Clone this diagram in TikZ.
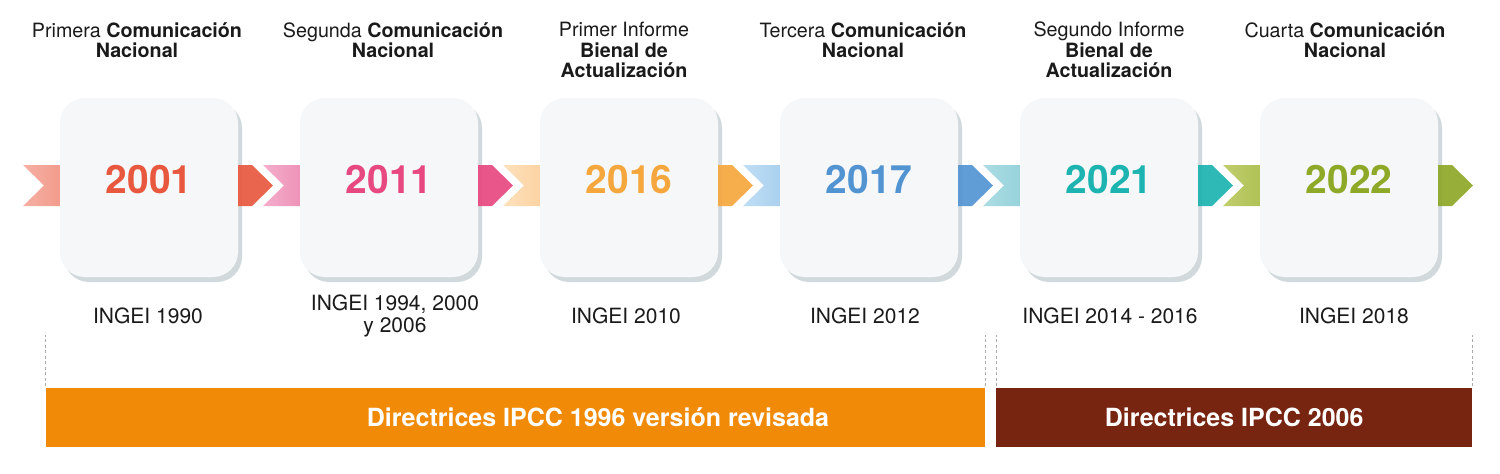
\documentclass[tikz,border=0pt]{standalone}
\usepackage{fontspec}
\setmainfont{TeX Gyre Heros}
\usetikzlibrary{calc,shadows}
\definecolor{ink}{HTML}{1A1A1A}
\definecolor{cardfill}{HTML}{F6F7F9}
\definecolor{cardshade}{HTML}{D2D9DC}
\definecolor{guide}{HTML}{ABABAB}
\definecolor{ipccold}{HTML}{F18A07}
\definecolor{ipccnew}{HTML}{772411}
% year / arrow colours, tail colours (left, right)
\definecolor{dk1}{HTML}{E8583F}\definecolor{lt1}{HTML}{F5B0A3}\definecolor{lr1}{HTML}{F29C8C}
\definecolor{dk2}{HTML}{E74880}\definecolor{lt2}{HTML}{F4AECB}\definecolor{lr2}{HTML}{EE93B9}
\definecolor{dk3}{HTML}{F5A73E}\definecolor{lt3}{HTML}{FDE1BC}\definecolor{lr3}{HTML}{FCD3A3}
\definecolor{dk4}{HTML}{5294D2}\definecolor{lt4}{HTML}{C0DEF4}\definecolor{lr4}{HTML}{AAD1EF}
\definecolor{dk5}{HTML}{1CB3B0}\definecolor{lt5}{HTML}{ACDCE3}\definecolor{lr5}{HTML}{97D3DC}
\definecolor{dk6}{HTML}{8EA828}\definecolor{lt6}{HTML}{C0CD6E}\definecolor{lr6}{HTML}{B0C256}
\tikzset{
  card/.style={rounded corners=25pt, fill=cardfill, minimum width=178pt, minimum height=179pt,
    inner sep=0pt, general shadow={fill=cardshade, shadow xshift=4pt, shadow yshift=-5pt}},
  yeartxt/.style={font=\bfseries\fontsize{39}{39}\selectfont, anchor=base, inner sep=0pt},
  ttl/.style={text=ink, font=\fontsize{19.7}{20.5}\selectfont, align=center, anchor=north,
    inner sep=0pt, execute at begin node={\rule{0pt}{18pt}}},
  lab/.style={text=ink, font=\fontsize{21}{22}\selectfont, align=center, anchor=north,
    inner sep=0pt, execute at begin node={\rule{0pt}{18pt}}},
  head/.style={fill opacity=0.92},
  bar/.style={anchor=north west, minimum height=59pt, inner sep=0pt},
  bartxt/.style={text=white, font=\bfseries\fontsize{25}{25}\selectfont, anchor=base, inner sep=0pt},
  guideline/.style={draw=guide, line width=0.8pt, dash pattern=on 3pt off 2.5pt},
}
\begin{document}
\begin{tikzpicture}[x=1pt,y=-1pt]
  \useasboundingbox (0,0) rectangle (1500,474);

  % cards, years and chevrons
  \foreach \i/\yr in {1/2001,2/2011,3/2016,4/2017,5/2021,6/2022}{
    \pgfmathsetmacro{\cx}{149+240*(\i-1)}
    \shade[left color=lt\i, right color=lr\i]
      (\cx-126,165) -- (\cx-89,165) -- (\cx-89,206) -- (\cx-126,206) -- (\cx-105,185.5) -- cycle;
    \node[card] (box\i) at (\cx,187.5) {};
    \node[yeartxt, text=dk\i] (yr\i) at (\cx,193) {\yr};
    \fill[head, dk\i] (\cx+89,165) -- (\cx+103,165) -- (\cx+124,185.5) -- (\cx+103,206) -- (\cx+89,206) -- cycle;
  }

  % titles
  \node[ttl] (t1) at (137,22) {Primera \textbf{Comunicación}\\\textbf{Nacional}};
  \node[ttl] (t2) at (393,22) {Segunda \textbf{Comunicación}\\\textbf{Nacional}};
  \node[ttl] (t3) at (624,22) {Primer Informe\\\textbf{Bienal de}\\\textbf{Actualización}};
  \node[ttl] (t4) at (863,22) {Tercera \textbf{Comunicación}\\\textbf{Nacional}};
  \node[ttl] (t5) at (1109,22) {Segundo Informe\\\textbf{Bienal de}\\\textbf{Actualización}};
  \node[ttl] (t6) at (1345,22) {Cuarta \textbf{Comunicación}\\\textbf{Nacional}};

  % inventories
  \node[lab] (g1) at (148,305) {INGEI 1990};
  \node[lab] (g2) at (395,295) {INGEI 1994, 2000\\y 2006};
  \node[lab] (g3) at (626,305) {INGEI 2010};
  \node[lab] (g4) at (865,305) {INGEI 2012};
  \node[lab] (g5) at (1110,305) {INGEI 2014 - 2016};
  \node[lab] (g6) at (1354,305) {INGEI 2018};

  % guideline bars
  \node[bar, fill=ipccold, minimum width=939pt] (ipcc96) at (46,388) {};
  \node[bar, fill=ipccnew, minimum width=476pt] (ipcc06) at (996,388) {};
  \node[bartxt] (ipcc96txt) at (598,426.5) {Directrices IPCC 1996 versión revisada};
  \node[bartxt] (ipcc06txt) at (ipcc06.center |- 0,426.5) {Directrices IPCC 2006};

  \draw[guideline] ($(ipcc96.north west)+(-1,-2)$) -- ++(0,-51);
  \draw[guideline] ($(ipcc96.north east)+(0,-2)$) -- ++(0,-51);
  \draw[guideline] ($(ipcc06.north west)+(0,-2)$) -- ++(0,-51);
  \draw[guideline] ($(ipcc06.north east)+(0,-2)$) -- ++(0,-51);
\end{tikzpicture}
\end{document}
